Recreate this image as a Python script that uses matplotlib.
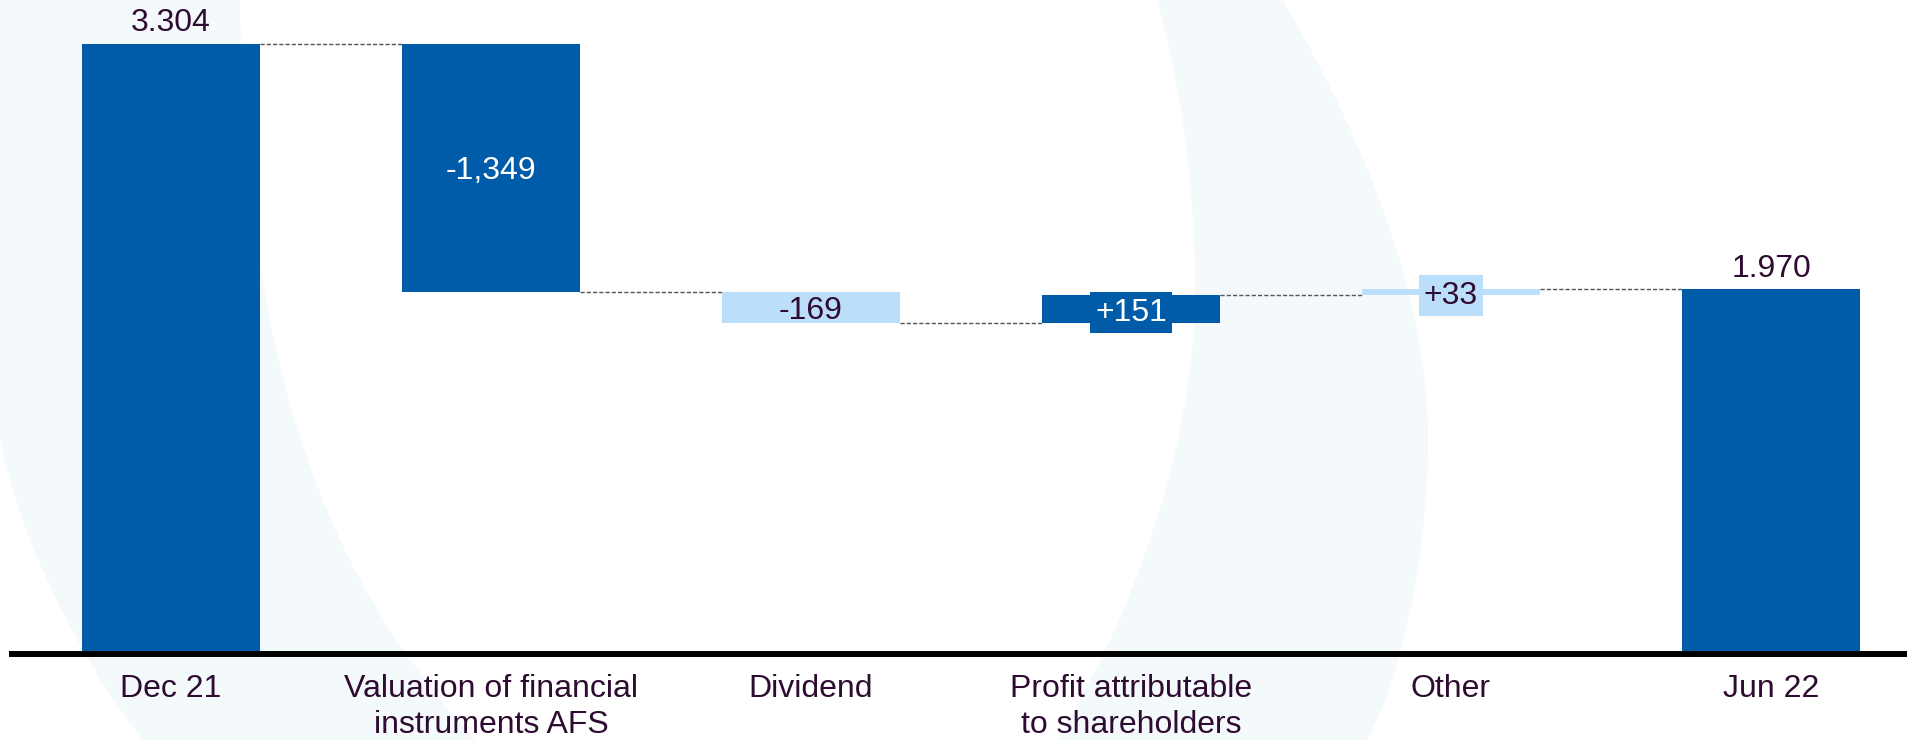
import numpy as np
import matplotlib
matplotlib.use('Agg')
import matplotlib.pyplot as plt
from matplotlib.path import Path
from matplotlib.patches import PathPatch

# data
categories = ['Dec 21', 'Valuation of financial\ninstruments AFS', 'Dividend',
              'Profit attributable\nto shareholders', 'Other', 'Jun 22']
values = [3304, -1349, -169, 151, 33, 1970]
value_labels = ['3.304', '-1,349', '-169', '+151', '+33', '1.970']
is_total = [True, False, False, False, False, True]

# style
dark_blue = '#005BA9'
light_blue = '#BBDFFA'
text_col = '#2E0B30'
bar_colors = [dark_blue, dark_blue, light_blue, dark_blue, light_blue, dark_blue]
label_colors = [text_col, 'white', text_col, 'white', text_col, text_col]
boxed = [False, False, False, True, True, False]
tint = '#F4F9FC'

plt.rcParams['font.family'] = ['Liberation Sans', 'DejaVu Sans']

W, H = 1908, 740
fig = plt.figure(figsize=(W / 100, H / 100), dpi=100)
ax = fig.add_axes([0, 0, 1, 1])
ax.axis('off')

# pixel layout -> data limits
x0_px, step_px = 171, 320
base_px, px_per_unit = 651, 0.1837
ax.set_xlim(-x0_px / step_px, (W - x0_px) / step_px)
ax.set_ylim((base_px - H) / px_per_unit, base_px / px_per_unit)
width = 178 / step_px


def fig_pt(x, y):
    return (x / W, 1 - y / H)


# faint background shapes (pixel coords, y from top)
left_shape = [
    (Path.MOVETO, (0, 0)), (Path.LINETO, (240, 0)),
    (Path.CURVE4, (245, 380)), (Path.CURVE4, (330, 580)), (Path.CURVE4, (475, 740)),
    (Path.LINETO, (143, 740)),
    (Path.CURVE4, (80, 660)), (Path.CURVE4, (20, 540)), (Path.CURVE4, (0, 440)),
    (Path.CLOSEPOLY, (0, 0)),
]
right_shape = [
    (Path.MOVETO, (1157, 0)), (Path.LINETO, (1283, 0)),
    (Path.CURVE4, (1370, 150)), (Path.CURVE4, (1428, 300)), (Path.CURVE4, (1428, 440)),
    (Path.CURVE4, (1428, 560)), (Path.CURVE4, (1400, 680)), (Path.CURVE4, (1367, 740)),
    (Path.LINETO, (1057, 740)),
    (Path.CURVE4, (1130, 620)), (Path.CURVE4, (1195, 450)), (Path.CURVE4, (1195, 290)),
    (Path.CURVE4, (1195, 180)), (Path.CURVE4, (1180, 80)), (Path.CURVE4, (1157, 0)),
    (Path.CLOSEPOLY, (1157, 0)),
]
for shape in (left_shape, right_shape):
    codes = [c for c, _ in shape]
    verts = [fig_pt(*p) for _, p in shape]
    ax.add_patch(PathPatch(Path(verts, codes), facecolor=tint, edgecolor='none',
                           transform=fig.transFigure, zorder=0))

# waterfall geometry
bottoms, heights, levels = [], [], []
running = 0
for v, tot in zip(values, is_total):
    if tot:
        bottoms.append(0)
        heights.append(v)
        running = v
    else:
        bottoms.append(running)
        heights.append(v)
        running += v
    levels.append(running)

x = np.arange(len(values))
ax.bar(x, heights, bottom=bottoms, width=width, color=bar_colors, zorder=2)

# connectors
for i in range(len(values) - 1):
    ax.plot([x[i] + width / 2, x[i + 1] - width / 2], [levels[i], levels[i]],
            color='#555555', lw=1.0, linestyle=(0, (3, 1.5)), zorder=1)

# baseline
ax.axhline(-16.3, xmin=12 / W, xmax=1, color='black', lw=4.3, zorder=3)

# value labels
fs = 23
for i, (lbl, tot) in enumerate(zip(value_labels, is_total)):
    if tot:
        ax.annotate(lbl, (x[i], bottoms[i] + heights[i]), xytext=(0, 4),
                    textcoords='offset points', ha='center', va='bottom',
                    fontsize=fs, color=label_colors[i], zorder=4)
    else:
        kw = {}
        if boxed[i]:
            kw['bbox'] = dict(boxstyle='square,pad=0.17', fc=bar_colors[i], ec='none')
        ax.text(x[i], bottoms[i] + heights[i] / 2, lbl, ha='center', va='center_baseline',
                fontsize=fs, color=label_colors[i], zorder=4, **kw)

# category labels
for i, cat in enumerate(categories):
    ax.text(x[i], (base_px - 674) / px_per_unit, cat, ha='center', va='top',
            fontsize=fs, color=text_col, linespacing=1.25)

fig.savefig('out.png', dpi=100)
